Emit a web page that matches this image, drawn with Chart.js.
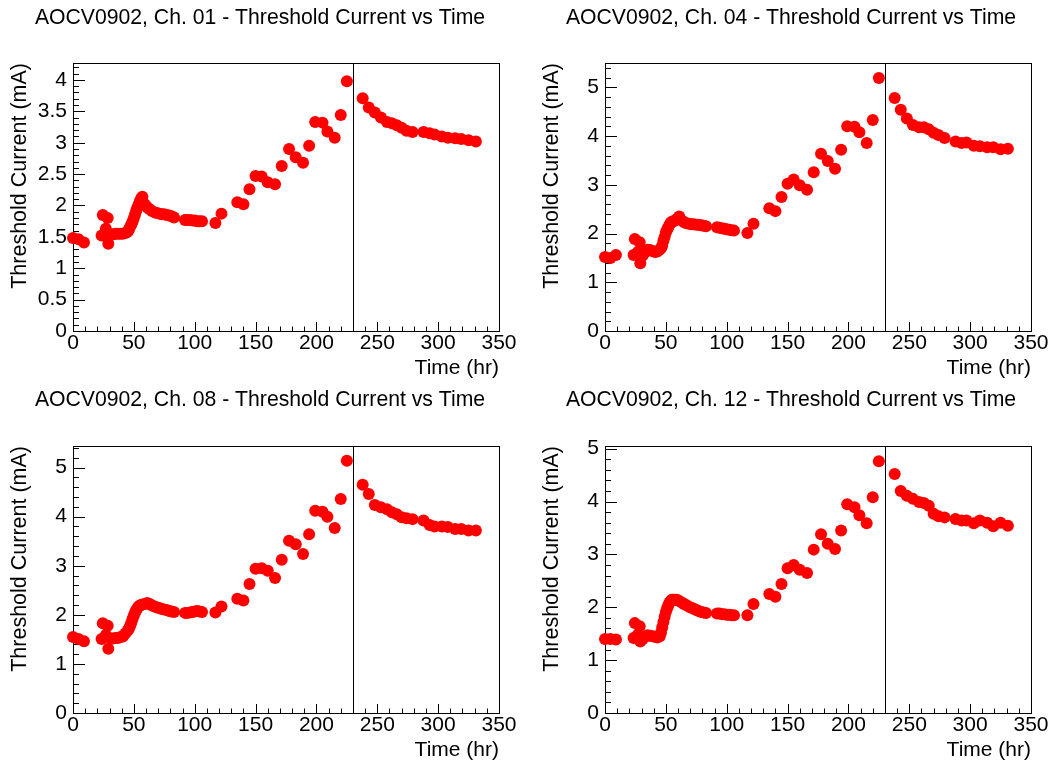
<!DOCTYPE html>
<html>
<head>
<meta charset="utf-8">
<title>AOCV0902 - Threshold Current vs Time</title>
<script src="https://cdn.jsdelivr.net/npm/chart.js@4.4.1/dist/chart.umd.min.js"></script>
<style>
  html, body { margin: 0; padding: 0; background: #fff; }
  #page { position: relative; width: 1054px; height: 763px; overflow: hidden; }
  canvas { position: absolute; }
</style>
</head>
<body>
<div id="page">
  <canvas id="ch01" width="527" height="381" style="left:0;top:0"></canvas>
  <canvas id="ch04" width="527" height="381" style="left:527px;top:0"></canvas>
  <canvas id="ch08" width="527" height="382" style="left:0;top:381px"></canvas>
  <canvas id="ch12" width="527" height="382" style="left:527px;top:381px"></canvas>
</div>
<script>
// Measurement times (hr), shared by all four channels
const times = [
  0, 4.5, 9,
  23.5, 24.5, 27, 28.5, 29,
  31, 33, 35, 37, 39, 41, 43, 45,
  46, 47, 48, 49, 50, 51, 52, 53, 54, 55, 56, 57,
  59, 61, 63, 65, 67, 69, 71, 73, 75, 77, 79, 81, 83,
  92, 94, 96, 98, 100, 102, 104, 106,
  117, 122,
  135, 140, 145, 150, 155, 160, 166, 171.5, 177.5, 183, 189, 194, 199, 205, 209, 215, 220, 225,
  238, 243, 248, 253, 258, 262, 266, 270, 274, 279, 288, 293, 297, 303, 308, 314, 319, 325, 331,
];

// Threshold current (mA) per channel
const ch01 = [
  1.48, 1.46, 1.41,
  1.52, 1.85, 1.63, 1.80, 1.39,
  1.53, 1.54, 1.55, 1.55, 1.55, 1.55, 1.56, 1.58,
  1.62, 1.66, 1.70, 1.75, 1.80, 1.86, 1.92, 1.97, 2.02, 2.07, 2.11, 2.14,
  2.02, 1.97, 1.94, 1.91, 1.89, 1.88, 1.87, 1.86, 1.86, 1.85, 1.84, 1.83, 1.81,
  1.77, 1.77, 1.77, 1.76, 1.76, 1.75, 1.75, 1.75,
  1.72, 1.87,
  2.05, 2.02, 2.26, 2.47, 2.46, 2.37, 2.34, 2.63, 2.90, 2.77, 2.68, 2.95, 3.33, 3.32, 3.18, 3.08, 3.44, 3.98,
  3.71, 3.56, 3.48, 3.40, 3.33, 3.31, 3.28, 3.24, 3.19, 3.17, 3.17, 3.15, 3.13, 3.10, 3.08, 3.07, 3.06, 3.04, 3.02,
];
const ch04 = [
  1.52, 1.50, 1.56,
  1.56, 1.89, 1.62, 1.82, 1.39,
  1.55, 1.62, 1.67, 1.66, 1.64, 1.62, 1.63, 1.67,
  1.70, 1.75, 1.85, 1.93, 2.02, 2.08, 2.13, 2.18, 2.22, 2.24, 2.25, 2.26,
  2.30, 2.35, 2.27, 2.23, 2.21, 2.20, 2.19, 2.19, 2.18, 2.18, 2.17, 2.16, 2.15,
  2.13, 2.12, 2.11, 2.10, 2.09, 2.08, 2.07, 2.06,
  2.01, 2.20,
  2.52, 2.46, 2.75, 3.02, 3.11, 2.99, 2.90, 3.26, 3.64, 3.49, 3.33, 3.72, 4.20, 4.19, 4.08, 3.86, 4.33, 5.19,
  4.78, 4.54, 4.36, 4.23, 4.18, 4.18, 4.14, 4.07, 4.02, 3.96, 3.89, 3.86, 3.87, 3.80, 3.79, 3.77, 3.77, 3.73, 3.74,
];
const ch08 = [
  1.55, 1.51, 1.46,
  1.51, 1.83, 1.59, 1.78, 1.31,
  1.52, 1.52, 1.53, 1.53, 1.55, 1.56, 1.62, 1.68,
  1.72, 1.78, 1.85, 1.92, 1.99, 2.05, 2.10, 2.14, 2.17, 2.19, 2.20, 2.21,
  2.22, 2.24, 2.22, 2.19, 2.17, 2.15, 2.14, 2.12, 2.11, 2.10, 2.08, 2.07, 2.06,
  2.04, 2.04, 2.05, 2.06, 2.07, 2.08, 2.07, 2.06,
  2.05, 2.17,
  2.33, 2.29, 2.63, 2.94, 2.95, 2.90, 2.75, 3.12, 3.51, 3.44, 3.24, 3.64, 4.12, 4.10, 4.00, 3.77, 4.36, 5.14,
  4.65, 4.46, 4.24, 4.19, 4.15, 4.09, 4.05, 3.99, 3.97, 3.95, 3.92, 3.83, 3.80, 3.80, 3.79, 3.75, 3.75, 3.72, 3.72,
];
const ch12 = [
  1.40, 1.40, 1.39,
  1.42, 1.70, 1.48, 1.64, 1.35,
  1.40, 1.44, 1.47, 1.46, 1.45, 1.44, 1.43, 1.45,
  1.52, 1.62, 1.72, 1.82, 1.91, 1.98, 2.04, 2.09, 2.12, 2.14, 2.14, 2.14,
  2.14, 2.12, 2.09, 2.06, 2.04, 2.01, 1.99, 1.97, 1.95, 1.93, 1.91, 1.90, 1.89,
  1.88, 1.88, 1.87, 1.87, 1.86, 1.86, 1.85, 1.85,
  1.85, 2.06,
  2.25, 2.20, 2.44, 2.74, 2.80, 2.71, 2.65, 3.09, 3.38, 3.20, 3.10, 3.45, 3.95, 3.89, 3.74, 3.59, 4.08, 4.76,
  4.52, 4.20, 4.11, 4.05, 3.99, 3.97, 3.92, 3.77, 3.72, 3.70, 3.67, 3.64, 3.64, 3.59, 3.64, 3.60, 3.53, 3.60, 3.54,
];

// Tick labels
const xTicks = [0, 50, 100, 150, 200, 250, 300, 350];
const yTicksHalf = [0, 0.5, 1, 1.5, 2, 2.5, 3, 3.5, 4];
const yTicksWhole = [0, 1, 2, 3, 4, 5];

// Time of the vertical marker line (hr)
const markerTime = 230;

const FONT = "'Liberation Sans', Arial, Helvetica, sans-serif";

// Panel setup: chart area inside each canvas (canvas pixels), left padding centres the title
const panels = [
  { id: 'ch01', name: '01', values: ch01, yTicks: yTicksHalf, yMax: 4.27, yMinor: 0.1,
    area: { left: 73, top: 63, right: 499, bottom: 331 }, padLeft: 21, titleY: 18, yTitleX: 20 },
  { id: 'ch04', name: '04', values: ch04, yTicks: yTicksWhole, yMax: 5.5, yMinor: 0.2,
    area: { left: 78, top: 63, right: 504, bottom: 331 }, padLeft: 24, titleY: 18, yTitleX: 25 },
  { id: 'ch08', name: '08', values: ch08, yTicks: yTicksWhole, yMax: 5.44, yMinor: 0.2,
    area: { left: 73, top: 65, right: 499, bottom: 332 }, padLeft: 21, titleY: 19.5, yTitleX: 20 },
  { id: 'ch12', name: '12', values: ch12, yTicks: yTicksWhole, yMax: 5.05, yMinor: 0.2,
    area: { left: 78, top: 65, right: 504, bottom: 332 }, padLeft: 24, titleY: 19.5, yTitleX: 25 },
];

/**
 * ROOT-like frame: box, inward major/minor ticks and the marker line.
 */
const rootFrame = {
  id: 'rootFrame',
  beforeDatasetsDraw(chart, args, opts) {
    const { ctx, chartArea: a, scales: { x, y } } = chart;
    ctx.save();
    ctx.strokeStyle = '#000';
    ctx.lineWidth = 1;
    ctx.strokeRect(Math.round(a.left) + 0.5, Math.round(a.top) + 0.5,
      Math.round(a.right - a.left), Math.round(a.bottom - a.top));

    ctx.beginPath();
    const xn = Math.floor((x.max - x.min) / opts.xMinor + 1e-6);
    for (let i = 0; i <= xn; i++) {
      const v = x.min + i * opts.xMinor;
      const major = xTicks.some(t => Math.abs(t - v) < 1e-6);
      const px = Math.round(x.getPixelForValue(v)) + 0.5;
      ctx.moveTo(px, a.bottom);
      ctx.lineTo(px, a.bottom - (major ? 9 : 4.5));
    }
    const yn = Math.floor((y.max - y.min) / opts.yMinor + 1e-6);
    for (let i = 0; i <= yn; i++) {
      const v = y.min + i * opts.yMinor;
      const major = opts.yTicks.some(t => Math.abs(t - v) < 1e-6);
      const py = Math.round(y.getPixelForValue(v)) + 0.5;
      ctx.moveTo(a.left, py);
      ctx.lineTo(a.left + (major ? 12 : 6), py);
    }
    ctx.stroke();
    ctx.restore();
  },
  afterDatasetsDraw(chart, args, opts) {
    const { ctx, chartArea: a, scales: { x } } = chart;
    const mx = Math.round(x.getPixelForValue(opts.marker)) + 0.5;
    ctx.save();
    ctx.strokeStyle = '#000';
    ctx.lineWidth = 1;
    ctx.beginPath();
    ctx.moveTo(mx, a.top);
    ctx.lineTo(mx, a.bottom);
    ctx.stroke();
    ctx.restore();
  },
};

function makeChart(p) {
  const canvas = document.getElementById(p.id);
  const W = canvas.width;
  const H = canvas.height;
  const titleLine = 21.2 * 1.2;
  const titleTop = p.titleY - titleLine / 2;
  const axisTitleLine = 21.5 * 1.2;

  return new Chart(canvas, {
    type: 'scatter',
    data: {
      datasets: [{
        data: times.map((t, i) => ({ x: t, y: p.values[i] })),
        pointRadius: 6,
        pointHoverRadius: 6,
        pointBackgroundColor: '#ff0000',
        pointBorderWidth: 0,
        showLine: false,
        clip: false,
      }],
    },
    options: {
      animation: false,
      responsive: false,
      events: [],
      layout: { padding: { left: p.padLeft, top: 0, bottom: 0, right: W - p.area.right } },
      plugins: {
        legend: { display: false },
        tooltip: { enabled: false },
        title: {
          display: true,
          text: 'AOCV0902, Ch. ' + p.name + ' - Threshold Current vs Time',
          color: '#000',
          font: { family: FONT, size: 21.2, weight: 'normal' },
          padding: { top: titleTop, bottom: p.area.top - titleTop - titleLine },
        },
        rootFrame: { xMinor: 10, yMinor: p.yMinor, yTicks: p.yTicks, marker: markerTime },
      },
      scales: {
        x: {
          type: 'linear',
          min: 0,
          max: 350,
          afterBuildTicks: s => { s.ticks = xTicks.map(v => ({ value: v })); },
          afterFit: s => { s.height = H - p.area.bottom; },
          grid: { display: false, drawTicks: false },
          border: { display: false },
          ticks: {
            padding: 0, color: '#000', autoSkip: false, maxRotation: 0,
            font: { family: FONT, size: 21 },
            callback: v => String(v),
          },
          title: {
            display: true, text: 'Time (hr)', align: 'end', color: '#000',
            font: { family: FONT, size: 21 },
            padding: { top: 0, bottom: 0 },
          },
        },
        y: {
          type: 'linear',
          min: 0,
          max: p.yMax,
          afterBuildTicks: s => { s.ticks = p.yTicks.map(v => ({ value: v })); },
          afterFit: s => { s.width = p.area.left - p.padLeft; },
          grid: { display: false, drawTicks: false },
          border: { display: false },
          ticks: {
            padding: 6, color: '#000', autoSkip: false,
            font: { family: FONT, size: 21 },
            callback: v => String(+v.toFixed(2)),
          },
          title: {
            display: true, text: 'Threshold Current (mA)', align: 'end', color: '#000',
            font: { family: FONT, size: 21.5 },
            padding: { top: p.yTitleX - p.padLeft - axisTitleLine / 2, bottom: 0 },
          },
        },
      },
    },
    plugins: [rootFrame],
  });
}

panels.forEach(makeChart);
</script>
</body>
</html>
